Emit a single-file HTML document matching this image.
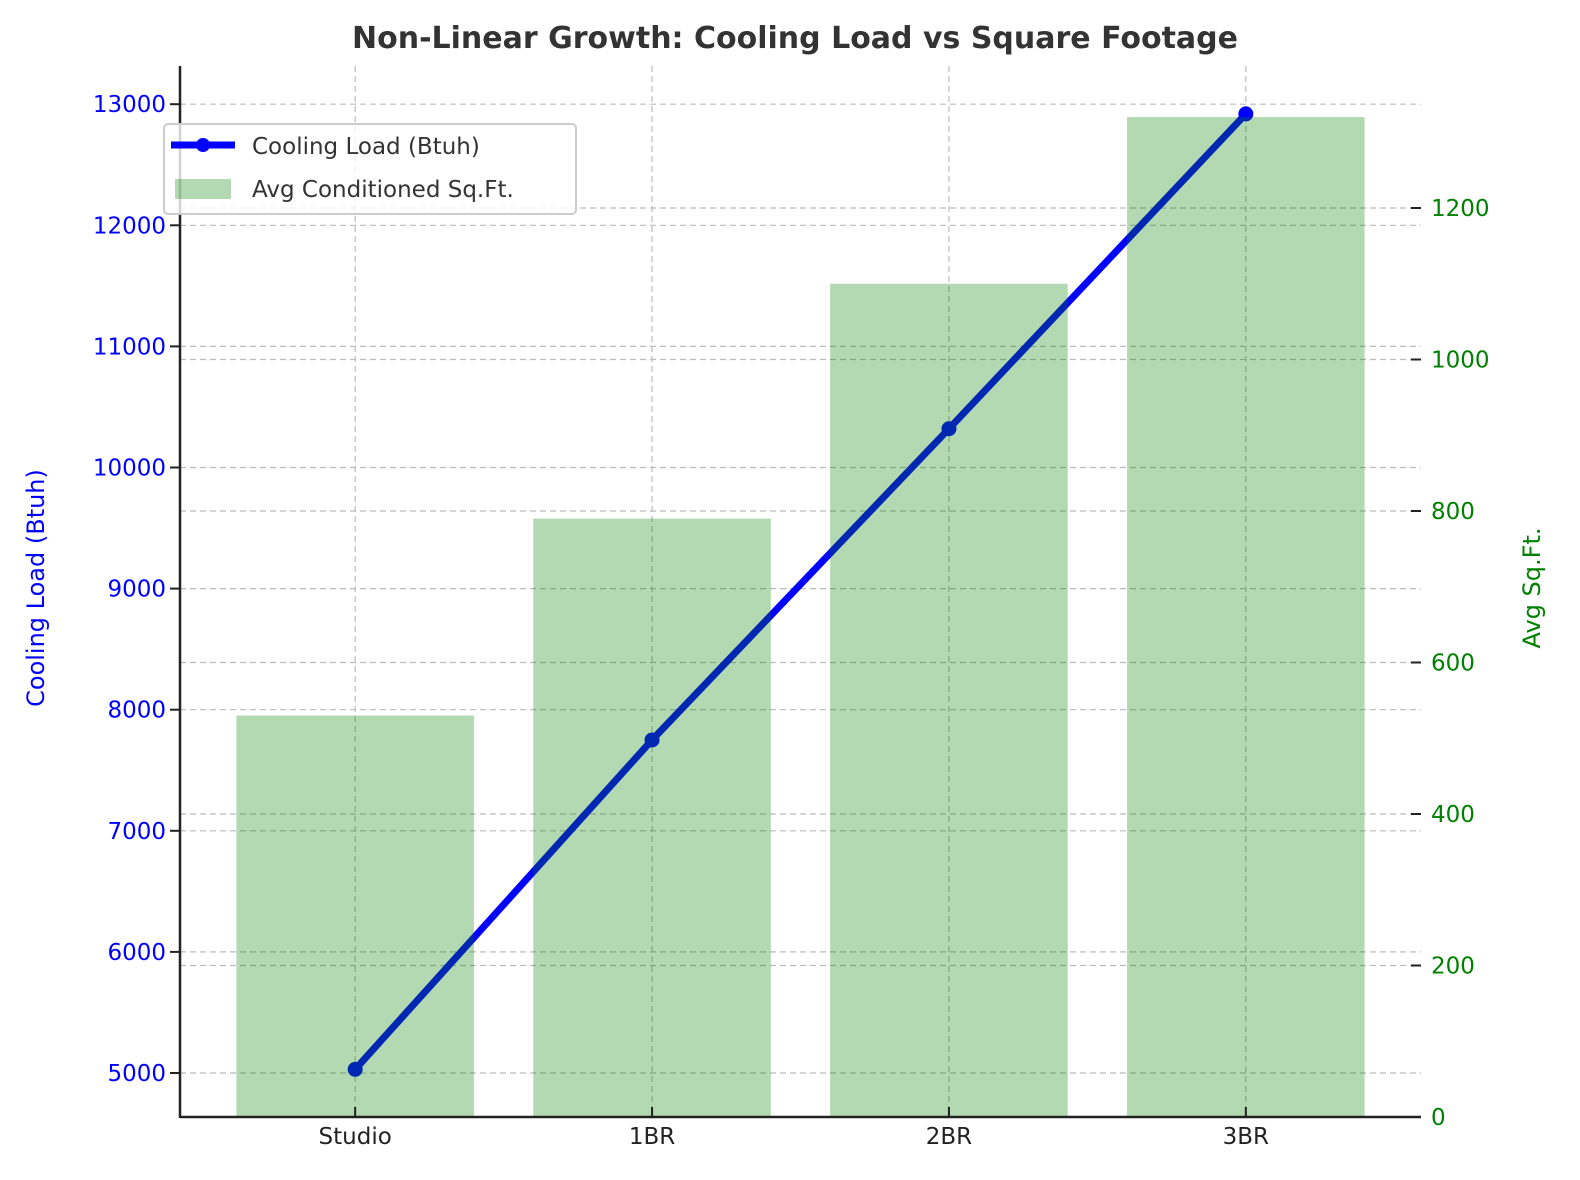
<!DOCTYPE html>
<html><head><meta charset="utf-8"><style>
body{margin:0;background:#fff;}
svg{display:block;font-family:"DejaVu Sans","Liberation Sans",sans-serif;}
</style></head><body>
<svg id="chart" width="1580" height="1180" viewBox="0 0 1580 1180">
<text x="795" y="48" text-anchor="middle" font-size="30" font-weight="bold" fill="#333">Non-Linear Growth: Cooling Load vs Square Footage</text>
<g id="grid"></g>
<g id="lineg"></g>
<g id="bars"></g>
<g id="axes"></g>
<text transform="translate(44,588) rotate(-90)" text-anchor="middle" font-size="24" fill="#0000ff">Cooling Load (Btuh)</text>
<text transform="translate(1540,588) rotate(-90)" text-anchor="middle" font-size="24" fill="#008000">Avg Sq.Ft.</text>
<g>
<rect x="164" y="124" width="412" height="90" rx="4" fill="#fff" fill-opacity="0.8" stroke="#ccc" stroke-width="2"/>
<line x1="171" y1="145" x2="235" y2="145" stroke="#0000ff" stroke-width="7"/>
<circle cx="203" cy="145" r="7" fill="#0000ff"/>
<text x="252" y="154" font-size="23" fill="#333">Cooling Load (Btuh)</text>
<rect x="175" y="179" width="56" height="20" fill="#008000" fill-opacity="0.3"/>
<text x="252" y="197" font-size="23" fill="#333">Avg Conditioned Sq.Ft.</text>
</g>
</svg>
<script>
const categories=["Studio","1BR","2BR","3BR"];
const coolingLoad=[5030,7750,10320,12920];
const sqft=[530,790,1100,1320];
const leftTicks=[5000,6000,7000,8000,9000,10000,11000,12000,13000];
const rightTicks=[0,200,400,600,800,1000,1200];
const NS="http://www.w3.org/2000/svg";
const L=180,R=1421,T=66,B=1117;
const step=(R-L)/(categories.length-1+2*0.59);
const xS=i=>L+step*0.59+i*step;
const yL=v=>1073-(v-5000)*0.1211;
const yR=v=>B-v*0.7575;
function mk(tag,attrs,parent){const e=document.createElementNS(NS,tag);for(const k in attrs)e.setAttribute(k,attrs[k]);parent.appendChild(e);return e;}
const grid=document.getElementById('grid'),axes=document.getElementById('axes'),bars=document.getElementById('bars'),lg=document.getElementById('lineg');
const gs={stroke:"#bbb","stroke-width":1.2,"stroke-dasharray":"6,4"};
leftTicks.forEach(v=>{const y=yL(v);
 const g=mk('line',Object.assign({x1:L,x2:R,y1:y,y2:y},gs),grid);
 
 
 mk('line',{x1:L-10,x2:L,y1:y,y2:y,stroke:"#222","stroke-width":2},axes);
 const t=mk('text',{x:L-14,y:y+8,"text-anchor":"end","font-size":23,fill:"#0000ff"},axes);t.textContent=v;
 
 });
rightTicks.forEach(v=>{const y=yR(v);
 if(v>0){const g=mk('line',Object.assign({x1:L,x2:R,y1:y,y2:y},gs),grid);
 
 }
 mk('line',{x1:R-10,x2:R,y1:y,y2:y,stroke:"#222","stroke-width":2},axes);
 const t=mk('text',{x:R+10,y:y+8,"font-size":23,fill:"#008000"},axes);t.textContent=v;
 
 });
categories.forEach((c,i)=>{const x=xS(i);
 const g=mk('line',Object.assign({x1:x,x2:x,y1:T,y2:B},gs),grid);
 
 
 mk('line',{x1:x,x2:x,y1:B-10,y2:B,stroke:"#222","stroke-width":2},axes);
 const t=mk('text',{x:x,y:B+27,"text-anchor":"middle","font-size":23,fill:"#222"},axes);t.textContent=c;
 
 
 const bw=step*0.8;
 const b=mk('rect',{x:x-bw/2,y:yR(sqft[i]),width:bw,height:B-yR(sqft[i]),fill:"#008000","fill-opacity":0.3},bars);
 
 });
const pts=coolingLoad.map((v,i)=>xS(i)+","+yL(v)).join(" ");
const pl=mk('polyline',{points:pts,fill:"none",stroke:"#0000ff","stroke-width":7,"stroke-linejoin":"round"},lg);


coolingLoad.forEach((v,i)=>{const c=mk('circle',{cx:xS(i),cy:yL(v),r:7.5,fill:"#0000ff"},lg);
 
 });
mk('line',{x1:L,x2:L,y1:T,y2:B+1,stroke:"#222","stroke-width":2.5},axes);
mk('line',{x1:L,x2:R,y1:B,y2:B,stroke:"#222","stroke-width":2.5},axes);
</script>
</body></html>
